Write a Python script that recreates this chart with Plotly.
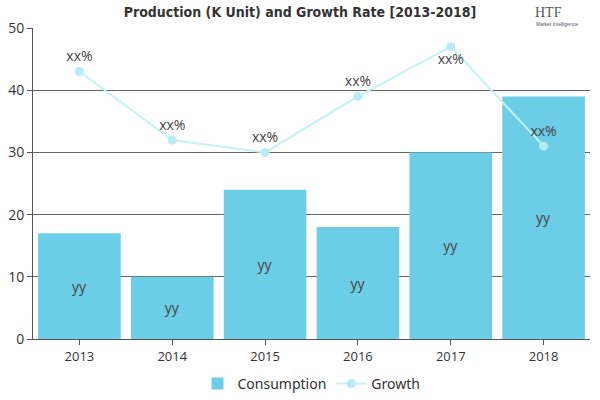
import plotly.graph_objects as go

years = ["2013", "2014", "2015", "2016", "2017", "2018"]
consumption = [17, 10, 24, 18, 30, 39]
growth = [43, 32, 30, 39, 47, 31]
bar_labels = ["yy"] * 6
growth_labels = ["xx%"] * 6
growth_pos = ["top center", "top center", "top center", "top center", "bottom center", "top center"]

fig = go.Figure()
fig.add_trace(go.Bar(
    x=years, y=consumption, name="Consumption",
    marker=dict(color="#6ccde6", line=dict(width=0)),
    text=bar_labels, textposition="inside", insidetextanchor="middle",
    textfont=dict(family="Open Sans", size=14, color="#444"),
    width=0.89,
))
fig.add_trace(go.Scatter(
    x=years, y=growth, name="Growth", mode="lines+markers+text",
    line=dict(color="#c4f2f7", width=2),
    marker=dict(color="#b6ecf4", size=9),
    text=growth_labels, textposition=growth_pos,
    textfont=dict(family="Open Sans", size=14, color="#444"),
))

fig.update_layout(
    width=600, height=400,
    margin=dict(l=33, r=10, t=28, b=61, autoexpand=False),
    paper_bgcolor="white", plot_bgcolor="white",
    title=dict(text="<b>Production (K Unit) and Growth Rate [2013-2018]</b>",
               x=0.5, xanchor="center", xref="container", y=0.97, yanchor="middle",
               font=dict(family="DejaVu Sans Condensed, Liberation Sans Narrow, sans-serif",
                         size=14, color="#333")),
    showlegend=True,
    legend=dict(orientation="h", x=0.5, xanchor="center", yref="container",
                y=0.0, yanchor="bottom",
                font=dict(family="Noto Sans", size=14, color="#333")),
    bargap=0.11,
    xaxis=dict(showgrid=False, showline=True, linecolor="#555", linewidth=1,
               ticks="outside", ticklen=5, tickcolor="#555",
               tickfont=dict(family="Open Sans", size=13, color="#333")),
    yaxis=dict(range=[0, 50], dtick=10, showgrid=True, gridcolor="#666", gridwidth=1,
               showline=True, linecolor="#555", linewidth=1,
               ticks="outside", ticklen=5, tickcolor="#555", zeroline=False,
               tickfont=dict(family="Open Sans", size=14, color="#333")),
)

fig.add_annotation(text="HTF", xref="paper", yref="paper", x=0.925, y=1.051,
                   showarrow=False, font=dict(family="Liberation Serif", size=14, color="#556"),
                   xanchor="center", yanchor="middle")
fig.add_annotation(text="Market Intelligence", xref="paper", yref="paper", x=0.94, y=1.013,
                   showarrow=False, font=dict(family="Liberation Sans", size=5, color="#556"),
                   xanchor="center", yanchor="middle")

fig.write_html("out.html")
